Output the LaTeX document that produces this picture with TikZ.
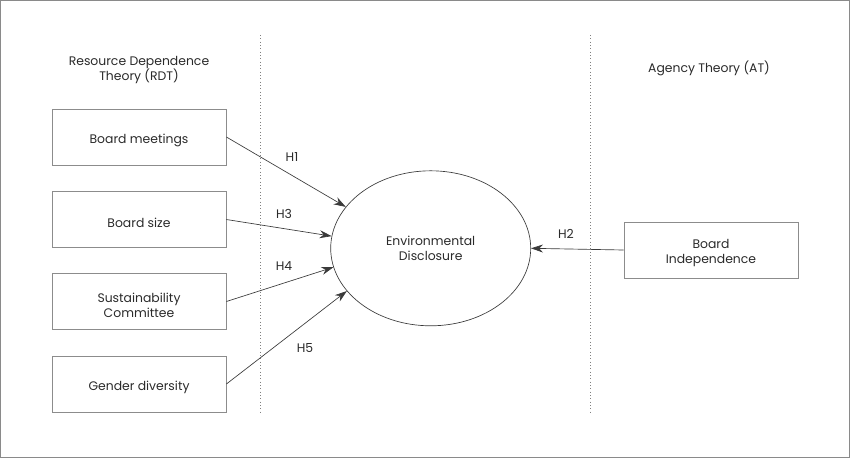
\documentclass[tikz,border=0pt]{standalone}
\usepackage{fontspec}
\setmainfont{Poppins}
\usetikzlibrary{arrows.meta,shapes.geometric}
\definecolor{frame}{HTML}{8A8A8A}
\definecolor{boxc}{HTML}{8C8C8C}
\definecolor{txt}{HTML}{2A2A2A}
\definecolor{arr}{HTML}{3A3A3A}
\begin{document}
\begin{tikzpicture}[x=0.75pt,y=-0.75pt,
  every node/.style={font=\fontsize{9.3}{11.25}\selectfont, text=txt},
  varbox/.style={draw=boxc, line width=0.6pt, minimum width=174*0.75pt, minimum height=56*0.75pt, inner sep=0pt,
    label={[align=center, inner sep=0pt, yshift=-2.5pt]center:#1}},
  construct/.style={draw=arr, line width=0.5pt, ellipse, minimum width=200*0.75pt, minimum height=155*0.75pt, align=center, inner sep=0pt},
  link/.style={draw=arr, line width=0.5pt, -{Stealth[length=9pt,width=6pt]}},
  divider/.style={draw=gray, line width=0.5pt, dotted},
  hlabel/.style={inner sep=0pt}]
\useasboundingbox (0,0) rectangle (850,458);
\draw[frame, line width=1pt] (0.7,0.7) rectangle (849.3,457.3);
% dividers
\coordinate (d1t) at (260,35); \coordinate (d1b) at (260,413);
\coordinate (d2t) at (590,35); \coordinate (d2b) at (590,413);
\draw[divider] (d1t) -- (d1b);
\draw[divider] (d2t) -- (d2b);
% headers
\node[align=center] (rdt) at (139,70.5) {Resource Dependence\\Theory (RDT)};
\node (at) at (709,68) {Agency Theory (AT)};
% boxes
\node[varbox={Board meetings}] (bm) at (139,137) {};
\node[varbox={Board size}] (bs) at (139,219.5) {};
\node[varbox={Sustainability\\Committee}] (sc) at (139,301.5) {};
\node[varbox={Gender diversity}] (gd) at (139,384) {};
\node[varbox={Board\\Independence}] (bi) at (711,250) {};
\node[construct] (ed) at (430.7,248.3) {Environmental\\Disclosure};
% arrows
\draw[link] (bm.east) -- (ed.154);
\draw[link] (bs.east) -- (ed.173.5);
\draw[link] (sc.east) -- (ed.191);
\draw[link] (gd.east) -- (ed.207);
\draw[link] (bi.west) -- (ed.east);
% labels
\node[hlabel] (h1) at (292,157) {H1};
\node[hlabel] (h3) at (284,214) {H3};
\node[hlabel] (h4) at (284,266) {H4};
\node[hlabel] (h5) at (305,348) {H5};
\node[hlabel] (h2) at (566,234) {H2};
\end{tikzpicture}
\end{document}
